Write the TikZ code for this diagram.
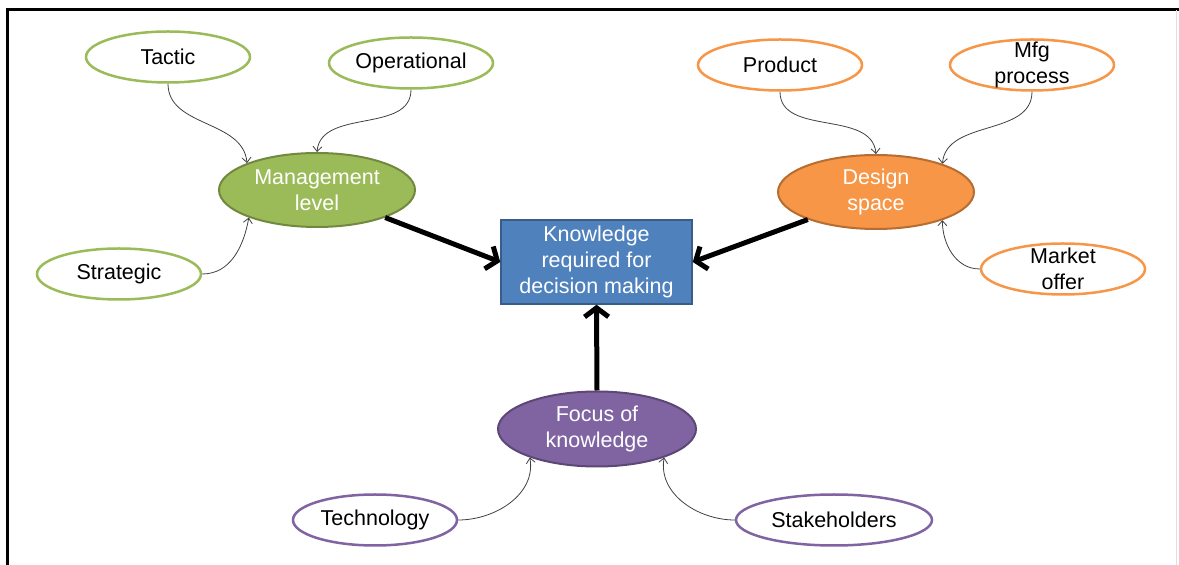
\documentclass[tikz,border=0pt]{standalone}
\usepackage{fontspec}
\setmainfont{Liberation Sans}
\usetikzlibrary{shapes.geometric,arrows.meta}
\definecolor{grn}{HTML}{9BBB59}
\definecolor{grnD}{HTML}{71893F}
\definecolor{org}{HTML}{F79646}
\definecolor{orgD}{HTML}{B66D31}
\definecolor{prp}{HTML}{8064A2}
\definecolor{prpD}{HTML}{5C4776}
\definecolor{blu}{HTML}{4F81BD}
\definecolor{bluD}{HTML}{385D8A}
\definecolor{thin}{HTML}{404040}
\begin{document}
\begin{tikzpicture}[x=1pt,y=1pt,
  every node/.style={font=\fontsize{21.5}{26}\selectfont, align=center},
  leaf/.style={ellipse, draw=#1, line width=2.5pt, fill=white, text=black,
    minimum width=164pt, minimum height=51pt, inner xsep=0pt, inner ysep=-8pt},
  hub/.style={ellipse, draw=#1, line width=2pt, text=white,
    minimum width=196pt, minimum height=74pt, inner xsep=0pt, inner ysep=-8pt},
  feed/.style={draw=thin, line width=0.8pt, -{Straight Barb[length=5pt,width=9pt]}},
  main/.style={draw=black, line width=5pt, -{Straight Barb[length=9pt,width=24pt,line width=5pt]}}
]
\useasboundingbox (0,0) rectangle (1179,565);
% frame
\draw[line width=3pt] (7,0) -- (7,555) -- (1179,555);
\draw[black!12, line width=1pt] (1176,555) -- (1176,0);

% centre box
\node[rectangle, draw=bluD, line width=1.5pt, fill=blu, text=white,
  minimum width=191pt, minimum height=84pt, inner sep=0pt] (box) at (596.5,303)
  {Knowledge\\required for\\decision making};

% management cluster
\node[hub=grnD, fill=grn] (mgmt) at (317,375) {Management\\level};
\node[leaf=grn] (tactic) at (168,508) {Tactic};
\node[leaf=grn] (oper) at (411,502) {Operational};
\node[leaf=grn] (strat) at (119,291) {Strategic};

% design cluster
\node[hub=orgD, fill=org] (design) at (876,373) {Design\\space};
\node[leaf=org] (product) at (780,500) {Product};
\node[leaf=org] (mfg) at (1032,500) {Mfg\\process};
\node[leaf=org] (market) at (1063,296) {Market\\offer};

% focus cluster
\node[hub=prpD, fill=prp, minimum width=198pt, minimum height=75pt] (focus) at (597,136) {Focus of\\knowledge};
\node[leaf=prp] (tech) at (375,45) {Technology};
\node[leaf=prp, minimum width=196pt] (stake) at (834,45) {Stakeholders};

% thin connectors
\draw[feed] (tactic.south) to[out=-90,in=95] (mgmt.159);
\draw[feed] (oper.south) to[out=-90,in=85] (mgmt.north);
\draw[feed] (strat.east) to[out=0,in=-100] (mgmt.202);
\draw[feed] (product.south) to[out=-90,in=95] (design.north);
\draw[feed] (mfg.south) to[out=-90,in=85] (design.23);
\draw[feed] (market.west) to[out=180,in=-90] (design.-23);
\draw[feed] (tech.east) to[out=0,in=-80] (focus.203);
\draw[feed] (stake.west) to[out=180,in=-100] (focus.-23);

% thick arrows
\draw[main] (mgmt.-22) -- (box.west);
\draw[main] (design.202) -- (box.east);
\draw[main] (focus.north) -- (box.south);
\end{tikzpicture}
\end{document}
